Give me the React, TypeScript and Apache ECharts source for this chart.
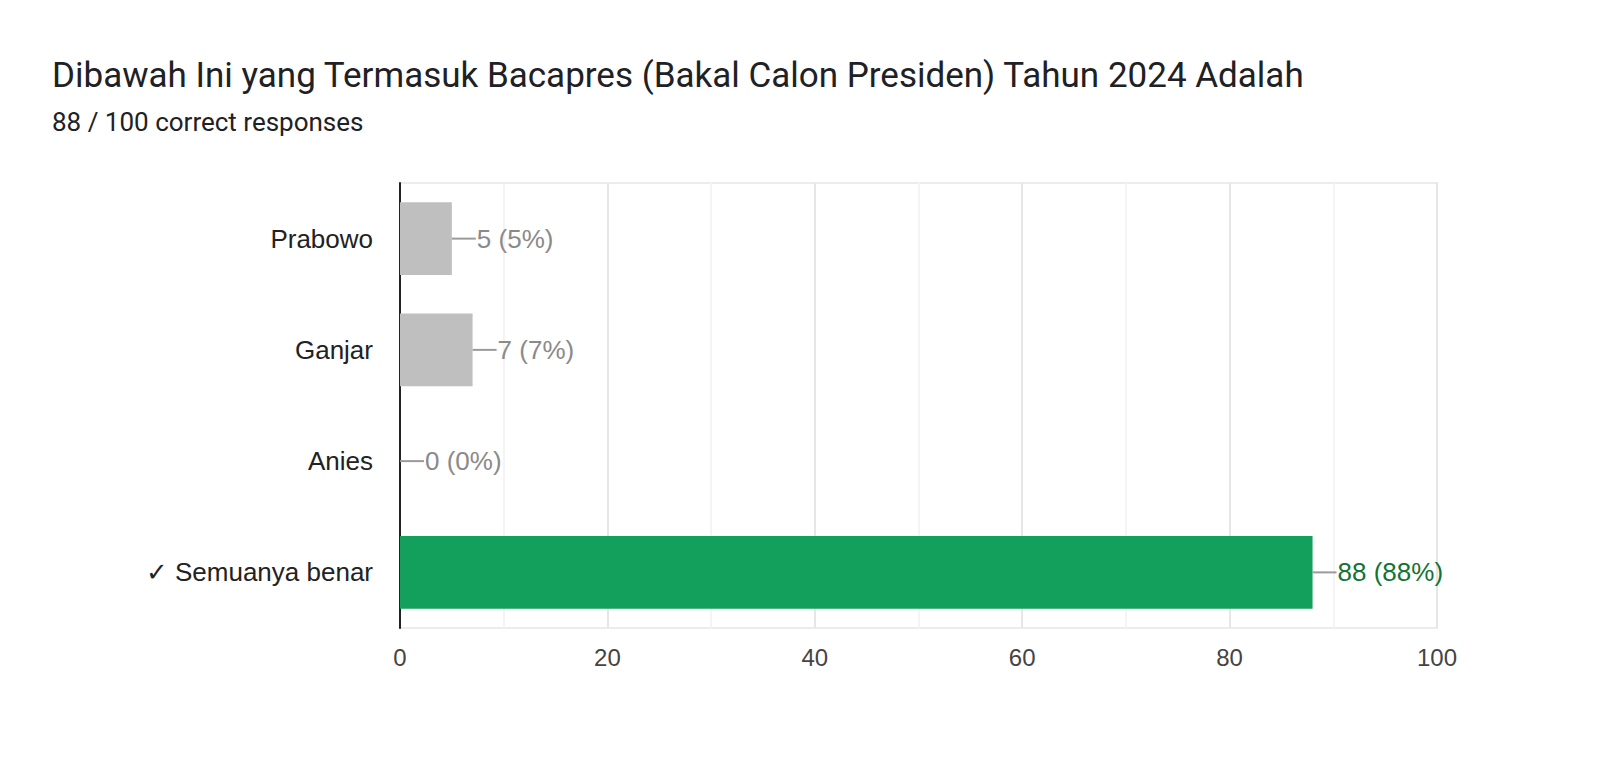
import React, { useEffect, useRef } from "react";
import * as echarts from "echarts";

const titleText = "Dibawah Ini yang Termasuk Bacapres (Bakal Calon Presiden) Tahun 2024 Adalah";
const subtitleText = "88 / 100 correct responses";
const categories = ["Prabowo", "Ganjar", "Anies", "✓ Semuanya benar"];
const counts = [5, 7, 0, 88];
const percents = [5, 7, 0, 88];
const isCorrect = [false, false, false, true];
const xTicks = [0, 20, 40, 60, 80, 100];

const CHART_FONT = "'Liberation Sans', Arial, 'DejaVu Sans', sans-serif";
const TITLE_FONT = "Roboto, 'Liberation Sans', sans-serif";

export default function App() {
  const ref = useRef<HTMLDivElement>(null);
  useEffect(() => {
    document.body.style.margin = "0";
    if (!ref.current) return;
    const chart = echarts.init(ref.current, null, { renderer: "svg" });
    const barData = counts.map((v, i) => ({
      value: v,
      itemStyle: { color: isCorrect[i] ? "#12a05c" : "#bfbfbf" },
    }));
    const labelData = counts.map((v, i) => [v, i]);
    chart.setOption({
      animation: false,
      backgroundColor: "#ffffff",
      graphic: [
        {
          type: "text",
          left: 52,
          top: 58,
          style: { text: titleText, font: `35px ${TITLE_FONT}`, fill: "#202124" },
        },
        {
          type: "text",
          left: 52,
          top: 109,
          style: { text: subtitleText, font: `26px ${TITLE_FONT}`, fill: "#202124" },
        },
      ],
      grid: {
        left: 400,
        right: 163,
        top: 183,
        bottom: 131,
        show: true,
        borderColor: "#ececec",
        borderWidth: 2,
        containLabel: false,
      },
      xAxis: {
        type: "value",
        min: xTicks[0],
        max: xTicks[xTicks.length - 1],
        interval: 20,
        axisLine: { show: false },
        axisTick: { show: false },
        axisLabel: {
          color: "#444444",
          fontSize: 24,
          fontFamily: CHART_FONT,
          margin: 17,
        },
        splitLine: { show: true, lineStyle: { color: "#e6e6e6", width: 2 } },
        minorTick: { show: false, splitNumber: 2 },
        minorSplitLine: { show: true, lineStyle: { color: "#f4f4f4", width: 2 } },
      },
      yAxis: {
        type: "category",
        data: categories,
        inverse: true,
        axisLine: { show: true, lineStyle: { color: "#222222", width: 2 } },
        axisTick: { show: false },
        axisLabel: {
          color: "#222222",
          fontSize: 26,
          fontFamily: CHART_FONT,
          margin: 27,
        },
        splitLine: { show: false },
      },
      series: [
        {
          type: "bar",
          data: barData,
          barWidth: "65.6%",
          z: 2,
        },
        {
          type: "custom",
          data: labelData,
          z: 3,
          renderItem: (params: any, api: any) => {
            const v = api.value(0);
            const idx = api.value(1);
            const p = api.coord([v, idx]);
            const good = isCorrect[idx];
            return {
              type: "group",
              children: [
                {
                  type: "line",
                  shape: { x1: p[0], y1: p[1], x2: p[0] + 24, y2: p[1] },
                  style: { stroke: "#9a9a9a", lineWidth: 2 },
                },
                {
                  type: "text",
                  x: p[0] + 25,
                  y: p[1],
                  style: {
                    text: `${counts[idx]} (${percents[idx]}%)`,
                    font: `26px ${CHART_FONT}`,
                    fill: good ? "#137333" : "#8a8a8a",
                    textAlign: "left",
                    textVerticalAlign: "middle",
                  },
                },
              ],
            };
          },
        },
      ],
    });
    return () => chart.dispose();
  }, []);
  return <div ref={ref} style={{ width: 1600, height: 759 }} />;
}
